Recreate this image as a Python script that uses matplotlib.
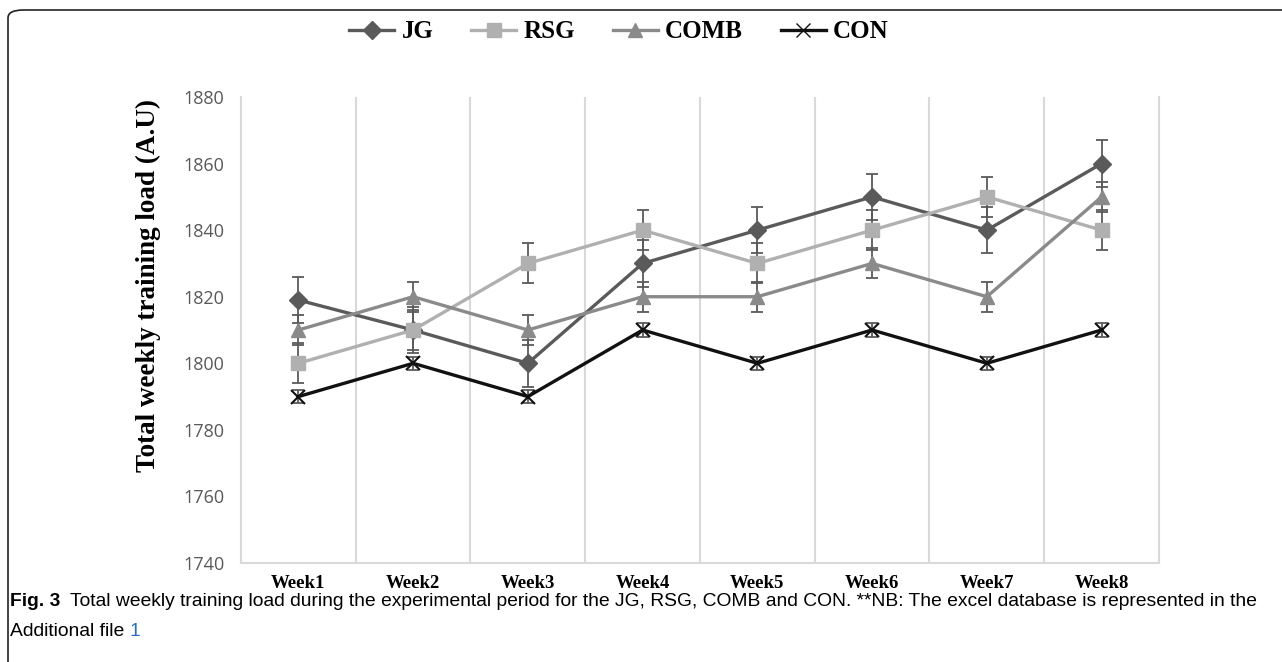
import matplotlib
matplotlib.use("Agg")
import matplotlib.pyplot as plt
from matplotlib.patches import FancyBboxPatch
from matplotlib.lines import Line2D
import numpy as np

weeks = ["Week1", "Week2", "Week3", "Week4", "Week5", "Week6", "Week7", "Week8"]
jg = [1819, 1810, 1800, 1830, 1840, 1850, 1840, 1860]
rsg = [1800, 1810, 1830, 1840, 1830, 1840, 1850, 1840]
comb = [1810, 1820, 1810, 1820, 1820, 1830, 1820, 1850]
con = [1790, 1800, 1790, 1810, 1800, 1810, 1800, 1810]
jg_err = [7, 7, 7, 7, 7, 7, 7, 7]
rsg_err = [6, 6, 6, 6, 6, 6, 6, 6]
comb_err = [4.5, 4.5, 4.5, 4.5, 4.5, 4.5, 4.5, 4.5]
con_err = [2, 2, 2, 2, 2, 2, 2, 2]
yticks = [1740, 1760, 1780, 1800, 1820, 1840, 1860, 1880]

W, H = 1282, 662
fig = plt.figure(figsize=(W / 100, H / 100), dpi=100)
fig.patch.set_facecolor("white")

# rounded frame
frame = FancyBboxPatch((8 / W, -0.2), 1.2, 1.2 - 10 / H,
                       boxstyle="round,pad=0,rounding_size=0.012",
                       transform=fig.transFigure, fill=False,
                       edgecolor="#222222", linewidth=1.2, clip_on=False)
fig.patches.append(frame)

ax = fig.add_axes([241 / W, 1 - 563 / H, (1159 - 241) / W, (563 - 97) / H])
x = np.arange(len(weeks))

serif = ["Liberation Serif", "DejaVu Serif"]
series = [
    ("JG", jg, jg_err, "#5a5a5a", "D", 9),
    ("RSG", rsg, rsg_err, "#b0b0b0", "s", 9.5),
    ("COMB", comb, comb_err, "#8a8a8a", "^", 10),
    ("CON", con, con_err, "#111111", "x", 10),
]
handles = []
for name, vals, err, col, mk, ms in series:
    ax.errorbar(x, vals, yerr=err, fmt="none", ecolor="#5a5a5a",
                elinewidth=1.3, capsize=4.5, capthick=1.3, zorder=2)
    ax.plot(x, vals, color=col, lw=2.4, marker=mk, markersize=ms,
            markerfacecolor=col, markeredgecolor=col,
            markeredgewidth=1.5 if mk == "x" else 1, zorder=3)
    handles.append(Line2D([], [], color=col, lw=2.4, marker=mk,
                          markersize=ms, markerfacecolor=col,
                          markeredgecolor=col))

ax.set_xlim(-0.5, len(weeks) - 0.5)
ax.set_ylim(1740, 1880)
ax.set_yticks(yticks)
ax.set_yticklabels([str(v) for v in yticks], fontsize=13, color="#595959",
                   family=["Open Sans", "DejaVu Sans"])
ax.set_xticks(x)
ax.set_xticklabels(weeks, fontsize=13.5, fontweight="bold", family=serif,
                   color="black")
ax.set_xticks(np.arange(0.5, len(weeks) - 0.5, 1), minor=True)
ax.tick_params(axis="both", which="both", length=0)
ax.tick_params(axis="y", pad=12)
ax.tick_params(axis="x", pad=9)
ax.grid(which="minor", axis="x", color="#d9d9d9", lw=1.5)
ax.grid(which="major", visible=False)
for s in ["left", "right", "bottom"]:
    ax.spines[s].set_color("#d9d9d9")
    ax.spines[s].set_linewidth(1.5)
ax.spines["top"].set_visible(False)

fig.text(148 / W, 1 - 285 / H, "Total weekly training load (A.U)",
         rotation=90, ha="center", va="center", fontsize=19.5,
         fontweight="bold", family=serif)

fig.legend(handles, ["JG", "RSG", "COMB", "CON"], loc="center",
           bbox_to_anchor=(619 / W, 1 - 32 / H), ncol=4, frameon=False,
           prop={"family": serif, "weight": "bold", "size": 18},
           handlelength=1.8, handletextpad=0.3, columnspacing=1.5)

# caption
capfam = ["Liberation Sans Narrow", "Liberation Sans", "DejaVu Sans"]
cap_size = 13.9
fig.canvas.draw()
r = fig.canvas.get_renderer()
t1 = fig.text(10 / W, 1 - 601 / H, "Fig. 3", fontsize=cap_size,
              fontweight="bold", family=capfam, va="center")
bb = t1.get_window_extent(renderer=r)
fig.text((bb.x1 + 10) / W, 1 - 601 / H,
         "Total weekly training load during the experimental period for the JG, RSG, COMB and CON. **NB: The excel database is represented in the",
         fontsize=cap_size, family=capfam, va="center")
t3 = fig.text(10 / W, 1 - 631 / H, "Additional file ", fontsize=cap_size,
              family=capfam, va="center")
bb3 = t3.get_window_extent(renderer=r)
fig.text(bb3.x1 / W, 1 - 631 / H, "1", fontsize=cap_size, family=capfam,
         va="center", color="#2a6ebb")

fig.savefig("out.png", dpi=100)
